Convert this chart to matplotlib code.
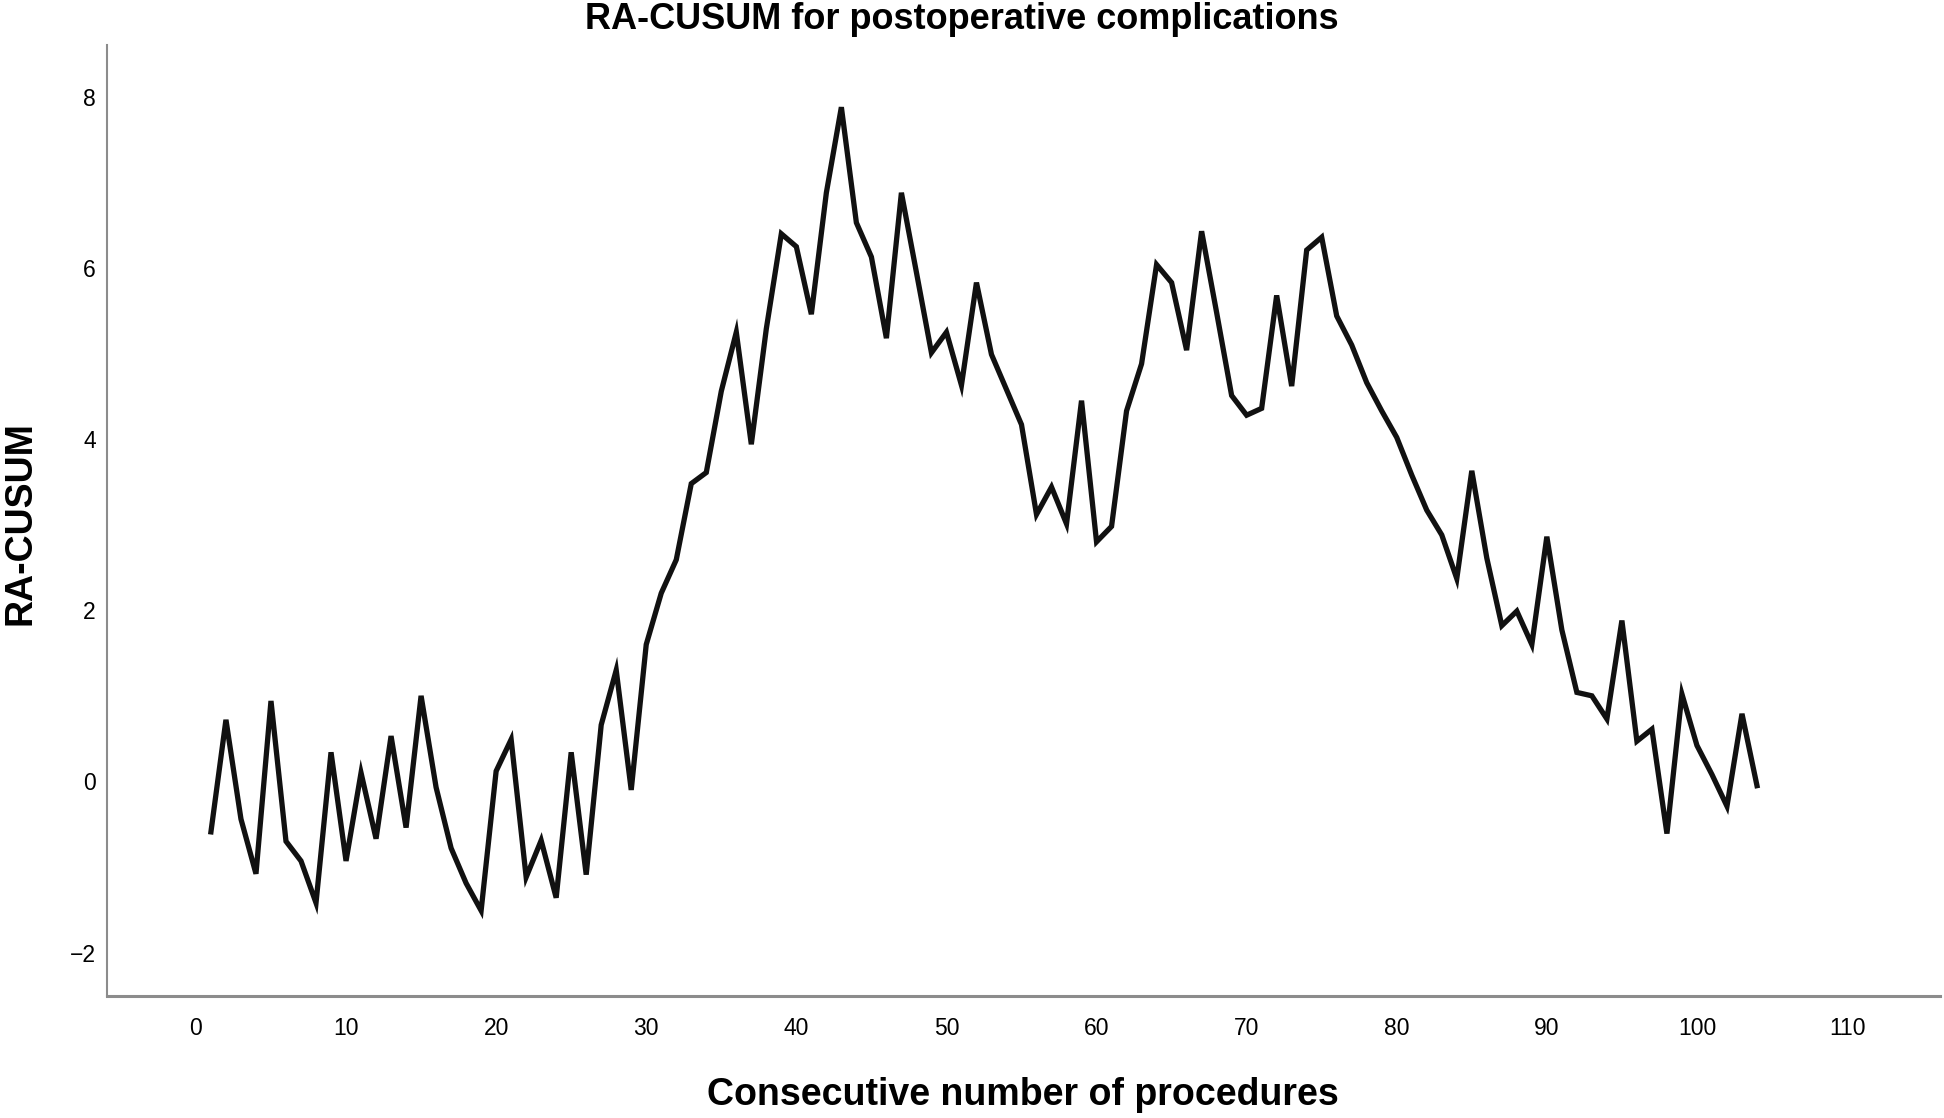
import numpy as np
import matplotlib
matplotlib.use('Agg')
import matplotlib.pyplot as plt

plt.rcParams['font.family'] = ['Liberation Sans', 'DejaVu Sans']

# procedure number and RA-CUSUM value
procedure = np.arange(1, 105)
ra_cusum = [
    -0.59, 0.72, -0.44, -1.08, 0.94, -0.70, -0.93, -1.42, 0.34, -0.93,
    0.10, -0.67, 0.53, -0.54, 1.00, -0.07, -0.78, -1.19, -1.51, 0.12,
    0.49, -1.12, -0.69, -1.36, 0.34, -1.09, 0.66, 1.30, -0.10, 1.60,
    2.20, 2.59, 3.48, 3.61, 4.56, 5.25, 3.94, 5.29, 6.40, 6.25,
    5.46, 6.88, 7.88, 6.53, 6.13, 5.18, 6.88, 5.95, 5.01, 5.25,
    4.63, 5.83, 4.99, 4.58, 4.17, 3.12, 3.44, 3.01, 4.45, 2.80,
    2.98, 4.33, 4.88, 6.04, 5.83, 5.04, 6.43, 5.48, 4.51, 4.28,
    4.36, 5.68, 4.62, 6.21, 6.36, 5.44, 5.10, 4.66, 4.33, 4.02,
    3.58, 3.17, 2.88, 2.37, 3.63, 2.61, 1.82, 1.99, 1.60, 2.86,
    1.77, 1.04, 1.00, 0.73, 1.88, 0.47, 0.61, -0.61, 1.02, 0.42,
    0.08, -0.29, 0.79, -0.05,
]
x_ticks = list(range(0, 111, 10))
y_ticks = [-2, 0, 2, 4, 6, 8]

fig = plt.figure(figsize=(19.44, 11.18), dpi=100)
ax = fig.add_axes([0.055, 0.109, 0.943, 0.851])

ax.plot(procedure, ra_cusum, color='#111111', lw=3.8, solid_joinstyle='miter')

ax.set_xlim(-5.93, 116.2)
ax.set_ylim(-2.51, 8.61)
ax.set_xticks(x_ticks)
ax.set_yticks(y_ticks)
ax.tick_params(length=0, labelsize=16.5)
ax.tick_params(axis='x', pad=15)
ax.tick_params(axis='y', pad=8)

for s in ['top', 'right']:
    ax.spines[s].set_visible(False)
ax.spines['left'].set_color('#8c8c8c')
ax.spines['bottom'].set_color('#8c8c8c')
ax.spines['left'].set_linewidth(1.5)
ax.spines['bottom'].set_linewidth(2.2)

fig.text(0.495, 0.983, 'RA-CUSUM for postoperative complications',
         ha='center', va='center', fontsize=26, fontweight='bold')
fig.text(0.526, 0.0206, 'Consecutive number of procedures',
         ha='center', va='center', fontsize=27, fontweight='bold')
fig.text(0.0105, 0.532, 'RA-CUSUM', ha='center', va='center',
         rotation='vertical', fontsize=27, fontweight='bold')

fig.savefig('out.png', dpi=100)
